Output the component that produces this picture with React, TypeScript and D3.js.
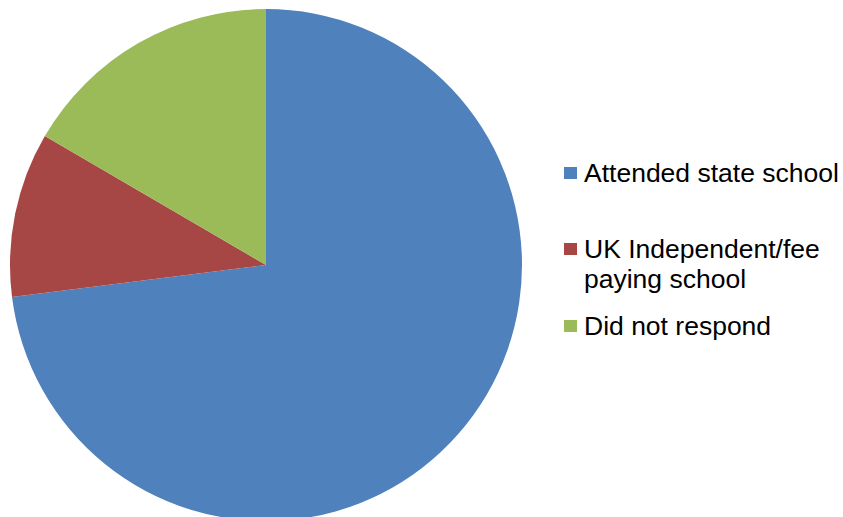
import React from "react";
import * as d3 from "d3";

const categories = ["Attended state school", "UK Independent/fee paying school", "Did not respond"];
const values = [73.0, 10.4, 16.6];
const colors = ["#4F81BD", "#A74745", "#9BBB59"];
const legendLines = [["Attended state school"], ["UK Independent/fee", "paying school"], ["Did not respond"]];

const W = 843;
const H = 517;
const cx = 266;
const cy = 265;
const R = 256;

export default function App() {
  const pie = d3.pie<number>().sort(null).value((d) => d);
  const arcs = pie(values);
  const arc = d3.arc<d3.PieArcDatum<number>>().innerRadius(0).outerRadius(R);
  const legendY = [182, 258, 335];
  const fontSize = 26.5;
  return (
    <svg width={W} height={H} style={{ position: "absolute", left: 0, top: 0, background: "#fff" }}>
      <g transform={`translate(${cx},${cy})`}>
        {arcs.map((a, i) => (
          <path key={i} d={arc(a) || ""} fill={colors[i]} />
        ))}
      </g>
      <g fontFamily="'Liberation Sans', Arial, Helvetica, sans-serif" fontSize={fontSize} fill="#000">
        {categories.map((c, i) => (
          <g key={c}>
            <rect x={564} y={legendY[i] - 15} width={13} height={12} fill={colors[i]} />
            <text x={584} y={legendY[i]}>
              {legendLines[i].map((l, j) => (
                <tspan key={j} x={584} dy={j === 0 ? 0 : 30}>{l}</tspan>
              ))}
            </text>
          </g>
        ))}
      </g>
    </svg>
  );
}
